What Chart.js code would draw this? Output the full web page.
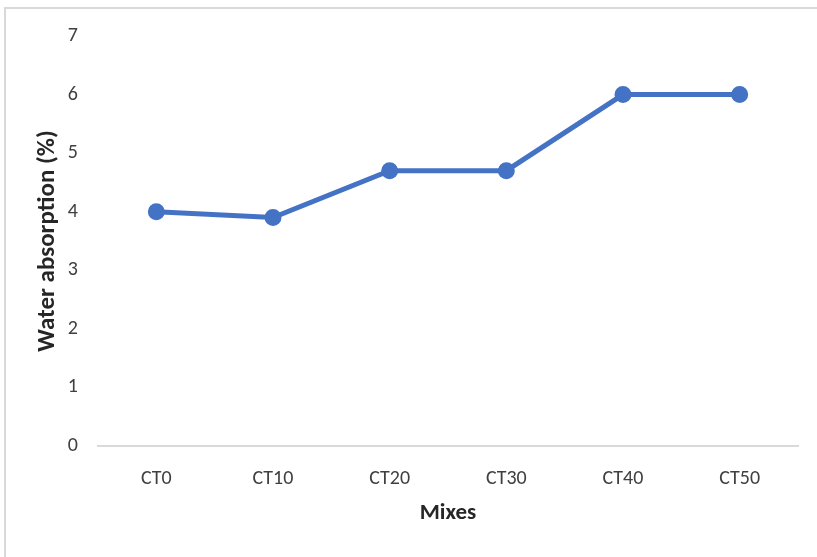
<!DOCTYPE html>
<html>
<head>
<meta charset="utf-8">
<script src="https://cdn.jsdelivr.net/npm/chart.js@4/dist/chart.umd.min.js"></script>
<style>
  html, body { margin: 0; padding: 0; background: #ffffff; }
  #frame {
    position: absolute; left: 4px; top: 7px;
    width: 813px; height: 550px;
    border-left: 2px solid #d9d9d9; border-top: 2px solid #d9d9d9;
    box-sizing: border-box; background: #ffffff;
  }
  #chart { display: block; }
</style>
</head>
<body>
<div id="frame"><canvas id="chart" width="811" height="548"></canvas></div>
<script>
// Water absorption of each mix
const mixes = ['CT0', 'CT10', 'CT20', 'CT30', 'CT40', 'CT50'];
const waterAbsorption = [4.0, 3.9, 4.7, 4.7, 6.0, 6.0];
const yTicks = [0, 1, 2, 3, 4, 5, 6, 7];

const FONT = "Carlito, Calibri, Lato, 'Open Sans', sans-serif";
const BLUE = '#4472C4';

new Chart(document.getElementById('chart'), {
  type: 'line',
  data: {
    labels: mixes,
    datasets: [{
      label: 'Water absorption (%)',
      data: waterAbsorption,
      borderColor: BLUE,
      backgroundColor: BLUE,
      borderWidth: 5,
      pointRadius: 6,
      pointHoverRadius: 6,
      pointBackgroundColor: BLUE,
      pointBorderColor: BLUE,
      tension: 0,
      fill: false
    }]
  },
  options: {
    responsive: false,
    animation: false,
    layout: { padding: { left: 0, right: 19, top: 27, bottom: 30 } },
    plugins: { legend: { display: false }, tooltip: { enabled: false } },
    scales: {
      x: {
        offset: true,
        grid: { display: false, drawTicks: false },
        border: { display: true, color: '#d9d9d9', width: 2 },
        ticks: { color: '#404040', font: { family: FONT, size: 20 }, padding: 21 },
        title: {
          display: true, text: 'Mixes', color: '#262626',
          font: { family: FONT, size: 23, weight: 'bold' },
          padding: { top: 10, bottom: 0 }
        },
        afterFit: (s) => { s.height = 81; }
      },
      y: {
        min: 0, max: 7,
        afterBuildTicks: (s) => { s.ticks = yTicks.map(v => ({ value: v })); },
        grid: { display: false, drawTicks: false },
        border: { display: false },
        ticks: { color: '#404040', font: { family: FONT, size: 20 }, padding: 20 },
        title: {
          display: true, text: 'Water absorption (%)', color: '#262626',
          font: { family: FONT, size: 25, weight: 'bold' },
          padding: { top: 27, bottom: 0 }
        },
        afterFit: (s) => { s.width = 92; s.paddingTop = 0; s.paddingBottom = 0; }
      }
    }
  }
});
</script>
</body>
</html>
